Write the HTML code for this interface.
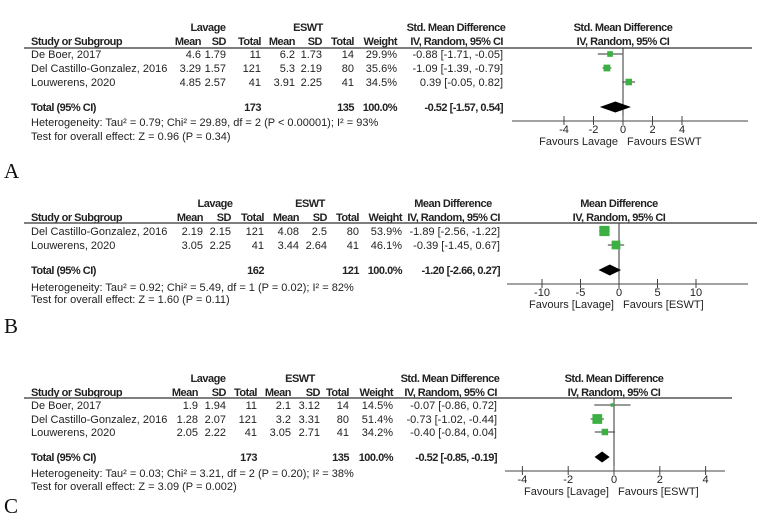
<!DOCTYPE html>
<html><head><meta charset="utf-8"><style>
html,body{margin:0;padding:0;background:#fff}
svg{display:block}
text{font-family:"Liberation Sans",Arial,sans-serif;font-size:11px;fill:#222}
.b{font-weight:bold;letter-spacing:-0.5px}
.lab{font-family:"Liberation Serif",serif;font-size:21px;fill:#111}
</style></head><body>
<svg id="fig" width="767" height="523" viewBox="0 0 767 523" xmlns="http://www.w3.org/2000/svg"></svg>
<script>
// ---- Panel A data ----
const studiesA = ["De Boer, 2017","Del Castillo-Gonzalez, 2016","Louwerens, 2020"];
const lavMeanA = ["4.6","3.29","4.85"], lavSdA = ["1.79","1.57","2.57"], lavNA = ["11","121","41"];
const esMeanA = ["6.2","5.3","3.91"], esSdA = ["1.73","2.19","2.25"], esNA = ["14","80","41"];
const weightA = [29.9,35.6,34.5];
const estA = [-0.88,-1.09,0.39], loA = [-1.71,-1.39,-0.05], hiA = [-0.05,-0.79,0.82];
const totA = [-0.52,-1.57,0.54];
const ticksA = [-4,-2,0,2,4];
// ---- Panel B data ----
const studiesB = ["Del Castillo-Gonzalez, 2016","Louwerens, 2020"];
const lavMeanB = ["2.19","3.05"], lavSdB = ["2.15","2.25"], lavNB = ["121","41"];
const esMeanB = ["4.08","3.44"], esSdB = ["2.5","2.64"], esNB = ["80","41"];
const weightB = [53.9,46.1];
const estB = [-1.89,-0.39], loB = [-2.56,-1.45], hiB = [-1.22,0.67];
const totB = [-1.20,-2.66,0.27];
const ticksB = [-10,-5,0,5,10];
// ---- Panel C data ----
const studiesC = ["De Boer, 2017","Del Castillo-Gonzalez, 2016","Louwerens, 2020"];
const lavMeanC = ["1.9","1.28","2.05"], lavSdC = ["1.94","2.07","2.22"], lavNC = ["11","121","41"];
const esMeanC = ["2.1","3.2","3.05"], esSdC = ["3.12","3.31","2.71"], esNC = ["14","80","41"];
const weightC = [14.5,51.4,34.2];
const estC = [-0.07,-0.73,-0.40], loC = [-0.86,-1.02,-0.84], hiC = [0.72,-0.44,0.04];
const totC = [-0.52,-0.85,-0.19];
const ticksC = [-4,-2,0,2,4];

const NS = "http://www.w3.org/2000/svg";
const svg = document.getElementById('fig');
function el(tag, attrs, parent){
  const e = document.createElementNS(NS, tag);
  for (const k in attrs) e.setAttribute(k, attrs[k]);
  (parent||svg).appendChild(e); return e;
}
function txt(g, x, y, s, anchor, cls, name){
  const t = el('text', {x:x, y:y, 'text-anchor':anchor||'start'}, g);
  if (cls) t.setAttribute('class', cls);
  
  
  t.textContent = s; return t;
}
function f2(v){ return v.toFixed(2); }

function panel(P){
  const g = el('g', {});
  
  
  const C = P.cols, base = 4;
  txt(g, C.lav, P.h1+base, "Lavage", "middle", "b", "lavage-header");
  txt(g, C.es, P.h1+base, "ESWT", "middle", "b", "eswt-header");
  txt(g, C.ci-47, P.h1+base, P.measure, "middle", "b", "effect-header");
  txt(g, C.ci, P.h2+base, "IV, Random, 95% CI", "end", "b", "method-header");
  txt(g, P.zero0, P.h1+base, P.measure, "middle", "b", "plot-header");
  txt(g, P.zero0, P.h2+base, "IV, Random, 95% CI", "middle", "b", "plot-method-header");
  txt(g, 31, P.h2+base, "Study or Subgroup", "start", "b", "study-header");
  const hd = ["Mean","SD","Total","Mean","SD","Total","Weight"];
  const hx = [C.m1,C.s1,C.n1,C.m2,C.s2,C.n2,C.w];
  hd.forEach((h,i)=>txt(g, hx[i], P.h2+base, h, "end", "b", "column-header"));
  const hl = el('line', {x1:24, x2:P.lineEnd, y1:P.line, y2:P.line, stroke:'#555', 'stroke-width':1.6}, g);
  
  
  const sx = v => P.zero0 + v * P.ppu;
  const zl = el('line', {x1:sx(0), x2:sx(0), y1:P.line, y2:P.axis, stroke:'#333', 'stroke-width':1}, g);
  
  
  P.studies.forEach((s,i)=>{
    const y = P.rows[i];
    txt(g, 31, y+base, s, "start", "", "study-name");
    const vals = [P.lm[i],P.ls[i],P.ln[i],P.em[i],P.es[i],P.en[i],P.wt[i].toFixed(1)+"%"];
    vals.forEach((v,j)=>txt(g, hx[j], y+base, v, "end", "", "cell-value"));
    txt(g, C.ci, y+base, f2(P.est[i])+" ["+f2(P.lo[i])+", "+f2(P.hi[i])+"]", "end", "", "ci-value");
    const ci = el('line', {x1:sx(P.lo[i]), x2:sx(P.hi[i]), y1:y, y2:y, stroke:'#333', 'stroke-width':1}, g);
    
    
    const sz = Math.max(3.5, 0.19*P.wt[i]);
    const sq = el('rect', {x:sx(P.est[i])-sz/2, y:y-sz/2, width:sz, height:sz, fill:'#3cb043'}, g);
    
    
  });
  const ty = P.total;
  txt(g, 31, ty+base, "Total (95% CI)", "start", "b", "total-label");
  txt(g, C.n1, ty+base, P.totN[0], "end", "b", "total-lavage-n");
  txt(g, C.n2, ty+base, P.totN[1], "end", "b", "total-eswt-n");
  txt(g, C.w, ty+base, "100.0%", "end", "b", "total-weight");
  txt(g, C.ci, ty+base, f2(P.tot[0])+" ["+f2(P.tot[1])+", "+f2(P.tot[2])+"]", "end", "b", "total-ci");
  const d = el('polygon', {points:[[sx(P.tot[1]),ty],[sx(P.tot[0]),ty-5.5],[sx(P.tot[2]),ty],[sx(P.tot[0]),ty+5.5]].map(p=>p.join(',')).join(' '), fill:'#000'}, g);
  
  
  txt(g, 31, P.het+base, P.hetText, "start", "", "heterogeneity-text");
  txt(g, 31, P.test+base, P.testText, "start", "", "overall-effect-text");
  const ax = el('line', {x1:P.axX0, x2:P.axX1, y1:P.axis, y2:P.axis, stroke:'#444', 'stroke-width':1}, g);
  
  
  P.ticks.forEach(t=>{
    const tl = el('line', {x1:sx(t), x2:sx(t), y1:P.axis-5, y2:P.axis+4, stroke:'#444', 'stroke-width':1}, g);
    
    
    txt(g, sx(t), P.axis+12, String(t), "middle", "", "x-tick-label");
  });
  txt(g, sx(0)-5, P.axis+24, P.favL, "end", "", "favours-left");
  txt(g, sx(0)+4, P.axis+24, P.favR, "start", "", "favours-right");
  const L = el('text', {x:4, y:P.labY, class:'lab'}, g);
  
  
  L.textContent = P.label;
}

panel({name:'panel-a', label:'A', labY:178, measure:'Std. Mean Difference',
  cols:{lav:208,es:308,m1:201,s1:226,n1:261,m2:295,s2:322,n2:354,w:397,ci:503},
  h1:27,h2:41,line:48,lineEnd:752,rows:[54,68,82],total:107,het:122,test:136,
  axis:121,axX0:512,axX1:748,zero0:623,ppu:14.75,ticks:ticksA,
  studies:studiesA,lm:lavMeanA,ls:lavSdA,ln:lavNA,em:esMeanA,es:esSdA,en:esNA,wt:weightA,
  est:estA,lo:loA,hi:hiA,tot:totA,totN:["173","135"],
  hetText:"Heterogeneity: Tau² = 0.79; Chi² = 29.89, df = 2 (P < 0.00001); I² = 93%",
  testText:"Test for overall effect: Z = 0.96 (P = 0.34)",favL:"Favours Lavage",favR:"Favours ESWT"});
panel({name:'panel-b', label:'B', labY:333, measure:'Mean Difference',
  cols:{lav:215,es:310,m1:203,s1:231,n1:264,m2:299,s2:327,n2:359,w:402,ci:500},
  h1:203,h2:217,line:223,lineEnd:757,rows:[231,245],total:270,het:287,test:299,
  axis:284,axX0:507,axX1:748,zero0:619,ppu:7.7,ticks:ticksB,
  studies:studiesB,lm:lavMeanB,ls:lavSdB,ln:lavNB,em:esMeanB,es:esSdB,en:esNB,wt:weightB,
  est:estB,lo:loB,hi:hiB,tot:totB,totN:["162","121"],
  hetText:"Heterogeneity: Tau² = 0.92; Chi² = 5.49, df = 1 (P = 0.02); I² = 82%",
  testText:"Test for overall effect: Z = 1.60 (P = 0.11)",favL:"Favours [Lavage]",favR:"Favours [ESWT]"});
panel({name:'panel-c', label:'C', labY:513, measure:'Std. Mean Difference',
  cols:{lav:208,es:300,m1:198,s1:226,n1:257,m2:291,s2:320,n2:349,w:393,ci:497},
  h1:378,h2:392,line:398,lineEnd:732,rows:[405,419,432],total:457,het:473,test:486,
  axis:471,axX0:505,axX1:725,zero0:614,ppu:22.9,ticks:ticksC,
  studies:studiesC,lm:lavMeanC,ls:lavSdC,ln:lavNC,em:esMeanC,es:esSdC,en:esNC,wt:weightC,
  est:estC,lo:loC,hi:hiC,tot:totC,totN:["173","135"],
  hetText:"Heterogeneity: Tau² = 0.03; Chi² = 3.21, df = 2 (P = 0.20); I² = 38%",
  testText:"Test for overall effect: Z = 3.09 (P = 0.002)",favL:"Favours [Lavage]",favR:"Favours [ESWT]"});
</script>
</body></html>
